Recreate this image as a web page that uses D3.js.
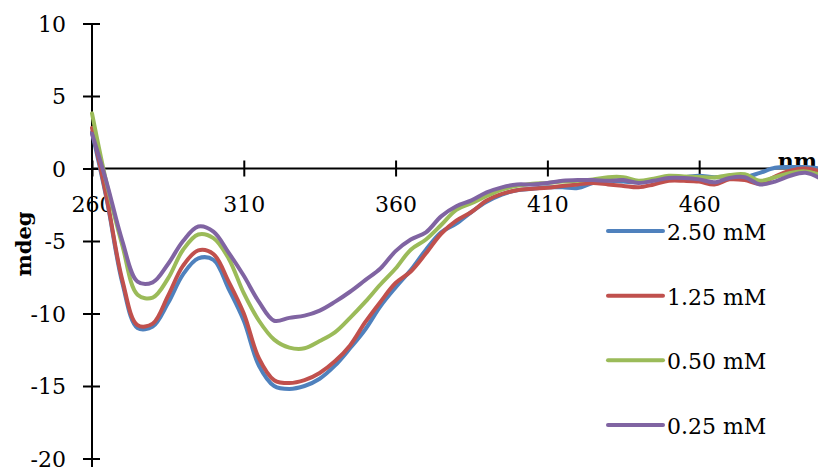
<!DOCTYPE html>
<html>
<head>
<meta charset="utf-8">
<script src="https://cdn.jsdelivr.net/npm/d3@7"></script>
<style>
  html, body { margin: 0; padding: 0; background: #fff; }
  svg { display: block; }
  text { font-family: "DejaVu Serif", serif; fill: #000; }
</style>
</head>
<body>
<svg id="chart" width="818" height="467"></svg>
<script>
// Wavelength grid (nm), 5 nm steps
const wavelengths = d3.range(260, 501, 5);

// CD signal (mdeg) per concentration
const conc250 = [2.5, -2.3, -7.9, -11.0, -10.9, -9.3, -7.3, -6.2, -6.3, -8.3,
  -10.5, -13.6, -15.0, -15.2, -15.0, -14.5, -13.6, -12.4, -11.1, -9.5,
  -8.2, -7.0, -5.6, -4.4, -3.8, -3.0, -2.3, -1.8, -1.5, -1.4,
  -1.3, -1.3, -1.35, -1.0, -0.85, -0.9, -0.95, -0.8, -0.65, -0.6,
  -0.5, -0.6, -0.55, -0.6, -0.3, 0.05, 0.1, 0.1, 0.0];
const conc125 = [2.8, -2.2, -7.7, -10.8, -10.7, -8.8, -6.7, -5.65, -5.9, -7.8,
  -10.0, -13.1, -14.6, -14.8, -14.6, -14.1, -13.3, -12.2, -10.6, -9.2,
  -7.9, -7.1, -5.85, -4.5, -3.6, -3.0, -2.2, -1.75, -1.5, -1.4,
  -1.33, -1.2, -1.1, -1.0, -1.1, -1.2, -1.3, -1.1, -0.85, -0.85,
  -0.9, -1.1, -0.75, -0.8, -1.05, -0.55, -0.15, 0.0, -0.2];
const conc050 = [3.8, -1.2, -5.3, -8.7, -8.9, -7.6, -5.6, -4.55, -4.8, -6.2,
  -8.6, -10.5, -11.8, -12.35, -12.4, -11.9, -11.3, -10.3, -9.2, -8.0,
  -6.9, -5.6, -4.9, -3.9, -2.85, -2.4, -1.9, -1.45, -1.2, -1.05,
  -1.0, -0.9, -0.85, -0.75, -0.6, -0.6, -0.85, -0.7, -0.5, -0.55,
  -0.58, -0.62, -0.45, -0.4, -0.85, -0.6, -0.3, -0.2, -0.45];
const conc025 = [2.4, -1.1, -5.0, -7.8, -7.85, -6.6, -5.0, -4.0, -4.35, -5.8,
  -7.4, -9.2, -10.5, -10.3, -10.15, -9.8, -9.2, -8.5, -7.7, -6.9,
  -5.7, -4.9, -4.4, -3.3, -2.6, -2.2, -1.65, -1.3, -1.1, -1.1,
  -1.0, -0.85, -0.8, -0.8, -0.85, -0.8, -1.0, -0.85, -0.65, -0.65,
  -0.75, -0.95, -0.65, -0.6, -1.1, -0.9, -0.5, -0.3, -0.7];

const seriesNames = ["2.50 mM", "1.25 mM", "0.50 mM", "0.25 mM"];
const seriesValues = [conc250, conc125, conc050, conc025];
const seriesColors = ["#4F81BD", "#C0504D", "#9BBB59", "#8064A2"];

const xTicks = [260, 310, 360, 410, 460];
const yTicks = [10, 5, 0, -5, -10, -15, -20];

const svg = d3.select("#chart");

const x = d3.scaleLinear().domain([260, 500]).range([92, 820.6]);
const y = d3.scaleLinear().domain([-20, 10]).range([458.5, 23.5]);

// Y axis: cross ticks, labels on the left
const yAxis = svg.append("g")
  .attr("transform", `translate(${x(260)},0)`)
  .call(d3.axisLeft(y).tickValues(yTicks).tickFormat(d => String(d)).tickSize(9));
yAxis.select(".domain").remove();
yAxis.selectAll(".tick line").attr("x1", -9).attr("x2", 8)
  .attr("stroke", "#000").attr("stroke-width", 2);
yAxis.selectAll(".tick text").attr("x", -26).attr("dy", "0.36em")
  .style("font-size", "22px").style("font-family", "DejaVu Serif, serif").attr("fill", "#000");
svg.append("line")
  .attr("x1", x(260)).attr("x2", x(260))
  .attr("y1", y(10)).attr("y2", 467)
  .attr("stroke", "#000").attr("stroke-width", 2);

// X axis at zero, cross ticks, labels below
const xAxis = svg.append("g")
  .attr("transform", `translate(0,${y(0)})`)
  .call(d3.axisBottom(x).tickValues(xTicks).tickFormat(d => String(d)).tickSize(8));
xAxis.select(".domain").remove();
xAxis.selectAll(".tick line").attr("y1", -8).attr("y2", 8)
  .attr("stroke", "#000").attr("stroke-width", 2);
xAxis.selectAll(".tick text").attr("y", 43).attr("dy", 0)
  .style("font-size", "22px").style("font-family", "DejaVu Serif, serif").attr("fill", "#000");
svg.append("line")
  .attr("x1", x(260)).attr("x2", 818)
  .attr("y1", y(0)).attr("y2", y(0))
  .attr("stroke", "#000").attr("stroke-width", 2);

// Axis titles
svg.append("text")
  .attr("x", 817).attr("y", 169)
  .attr("text-anchor", "end")
  .style("font-size", "22px").style("font-weight", "bold")
  .text("nm");
svg.append("text")
  .attr("transform", "translate(31,244) rotate(-90)")
  .attr("text-anchor", "middle")
  .style("font-size", "21px").style("font-weight", "bold")
  .text("mdeg");

// Spectra
const line = d3.line()
  .x((d, i) => x(wavelengths[i]))
  .y(d => y(d))
  .curve(d3.curveCatmullRom.alpha(0.5));

svg.append("g").selectAll("path")
  .data(seriesValues)
  .join("path")
  .attr("d", line)
  .attr("fill", "none")
  .attr("stroke", (d, i) => seriesColors[i])
  .attr("stroke-width", 4)
  .attr("stroke-linejoin", "round")
  .attr("stroke-linecap", "round");

// Legend
const legend = svg.append("g");
const legendY = d3.scaleLinear().domain([0, 3]).range([231, 425]);
seriesNames.forEach((name, i) => {
  const ly = legendY(i);
  legend.append("line")
    .attr("x1", 608).attr("x2", 663)
    .attr("y1", ly).attr("y2", ly)
    .attr("stroke", seriesColors[i]).attr("stroke-width", 4)
    .attr("stroke-linecap", "round");
  legend.append("text")
    .attr("x", 667).attr("y", ly + 9)
    .style("font-size", "22px")
    .text(name);
});
</script>
</body>
</html>
